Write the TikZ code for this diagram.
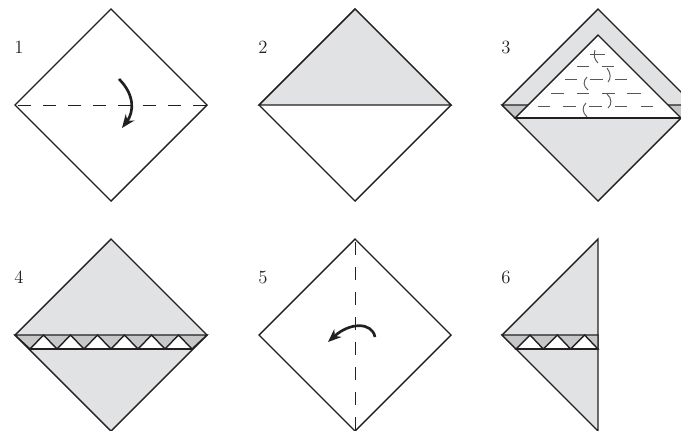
\documentclass[tikz,border=0pt]{standalone}
\usepackage{tikz}
\usetikzlibrary{arrows.meta}
\definecolor{papercolor}{RGB}{225, 226, 228}
\definecolor{foldcolor}{RGB}{198, 199, 201}
\definecolor{inkcolor}{RGB}{35, 31, 32}
\tikzset{
paper/.style={
  draw=inkcolor,
  line width=1.05pt,
  line join=miter,
  fill=white
},
greypaper/.style={
  paper,
  fill=papercolor
},
foldpaper/.style={
  paper,
  fill=foldcolor
},
foldedge/.style={
  draw=inkcolor,
  line width=1.5pt
},
creaseline/.style={
  draw=inkcolor,
  line width=0.7pt,
  dash pattern=on 9.75pt off 9pt,
  dash phase=16.5pt
},
fineline/.style={
  draw=inkcolor!75,
  line width=0.7pt
},
turnarrow/.style={
  -{Stealth[length=10pt,width=8pt]},
  line width=2pt,
  draw=inkcolor
},
steplabel/.style={
  font=\fontsize{14}{16}\selectfont,
  text=inkcolor,
  inner sep=0pt
}
}
\begin{document}
\begin{tikzpicture}[x=0.75pt, y=-0.75pt]
      \useasboundingbox (0,0) rectangle (681,430);
      % Step 1
      \draw[paper] (15,105) -- (111,9) -- (207,105) -- (111,201) -- cycle;
      \draw[creaseline] (15,105) -- (207,105);
      \draw[turnarrow] (119,79) .. controls (135,95) and (134,112) .. (122,128);
      \node[steplabel] (stepone) at (19,47) {1};
      % Step 2
      \draw[paper] (259,105) -- (355,9) -- (451,105) -- (355,201) -- cycle;
      \draw[greypaper] (259,105) -- (355,9) -- (451,105) -- cycle;
      \node[steplabel] (steptwo) at (263,47) {2};
      % Step 3
      \draw[greypaper] (502,105) -- (598,9) -- (694,105) -- (598,201) -- cycle;
      \draw[foldpaper] (502,105) -- (694,105) -- (681,118) -- (515,118) -- cycle;
      \draw[paper] (515,118) -- (598,35) -- (681,118) -- cycle;
      \draw[foldedge] (515,118) -- (681,118);
      % Dashes
      \foreach \xa/\xb/\yy in {590/605/54, 577/589/66, 602/614/66,
        565/577/79, 590/603/79, 615/627/79,
        551/564/93, 577/589/93, 602/615/93, 627/641/93,
        538/550/106, 563/576/106, 589/602/106, 615/627/106, 641/653/106}
        \draw[fineline] (\xa,\yy) -- (\xb,\yy);
      % Squiggles
      \draw[fineline] (595,50) .. controls (593,56) and (595,60) .. (598,63);
      \draw[fineline] (607,68) .. controls (611,73) and (611,79) .. (608,82);
      \draw[fineline] (587,77) .. controls (583,81) and (583,86) .. (588,90);
      \draw[fineline] (607,94) .. controls (612,98) and (612,105) .. (608,108);
      \draw[fineline] (586,103) .. controls (582,107) and (582,112) .. (587,117);
      \node[steplabel] (stepthree) at (506,47) {3};
      % Step 4
      \draw[greypaper] (15,335) -- (111,239) -- (207,335) -- (111,431) -- cycle;
      \draw[foldpaper] (15,335) -- (207,335) -- (192,349) -- (30,349) -- cycle;
      \foreach \i in {0,...,5}
        \draw[paper] (30+27*\i,349) -- (43.5+27*\i,335) -- (57+27*\i,349) -- cycle;
      \draw[foldedge] (30,349) -- (192,349);
      \node[steplabel] (stepfour) at (19,277) {4};
      % Step 5
      \draw[paper] (259,335) -- (355,239) -- (451,335) -- (355,431) -- cycle;
      \draw[creaseline] (355,239) -- (355,431);
      \draw[turnarrow] (375,337) .. controls (372,322) and (350,322) .. (328,342);
      \node[steplabel] (stepfive) at (263,277) {5};
      % Step 6
      \draw[greypaper] (502,335) -- (598,239) -- (598,431) -- cycle;
      \draw[foldpaper] (502,335) -- (598,335) -- (598,349) -- (516,349) -- cycle;
      \foreach \i in {0,1,2}
        \draw[paper] (516+27.3*\i,349) -- (530+27.3*\i,335) -- (543.3+27.3*\i,349) -- cycle;
      \draw[foldedge] (516,349) -- (598,349);
      \node[steplabel] (stepsix) at (506,277) {6};
    \end{tikzpicture}
\end{document}
